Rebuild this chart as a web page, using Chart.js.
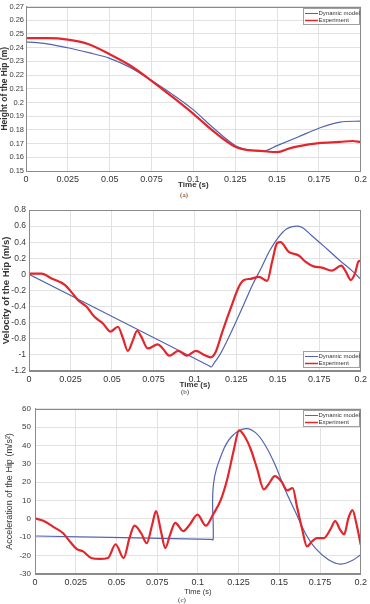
<!DOCTYPE html>
<html>
<head>
<meta charset="utf-8">
<script src="https://cdn.jsdelivr.net/npm/chart.js@4.4.1/dist/chart.umd.min.js"></script>
<style>
 body{margin:0;background:#fff;}
 #pagina{position:relative;width:370px;height:604px;overflow:hidden;background:#fff;}
 canvas{position:absolute;left:0;}
 .pie{position:absolute;width:40px;height:8px;line-height:8px;text-align:center;font-size:7px;font-family:"Liberation Serif","DejaVu Serif",serif;color:#333;}
</style>
</head>
<body>
<div id="pagina">
 <canvas id="graficoA" width="370" height="190" style="top:0px"></canvas>
 <canvas id="graficoB" width="370" height="190" style="top:200px"></canvas>
 <canvas id="graficoC" width="370" height="196" style="top:400px"></canvas>
 <div class="pie" style="left:164px;top:191px">(a)</div>
 <div class="pie" style="left:165px;top:388px">(b)</div>
 <div class="pie" style="left:162px;top:596px">(c)</div>
</div>
<script>
// etiquetas de los ejes
var etiquetasTiempo = ['0', '0.025', '0.05', '0.075', '0.1', '0.125', '0.15', '0.175', '0.2'];
var etiquetasAltura = ['0.15', '0.16', '0.17', '0.18', '0.19', '0.2', '0.21', '0.22', '0.23', '0.24', '0.25', '0.26', '0.27'];
var etiquetasVelocidad = ['-1.2', '-1', '-0.8', '-0.6', '-0.4', '-0.2', '0', '0.2', '0.4', '0.6', '0.8'];
var etiquetasAceleracion = ['-30', '-20', '-10', '0', '10', '20', '30', '40', '50', '60'];

// (a) altura de la cadera
var tAlturaModelo = [0, 0.0125, 0.025, 0.0375, 0.05, 0.0625, 0.075, 0.0875, 0.1, 0.1125, 0.125, 0.1325, 0.142, 0.15, 0.1625, 0.175, 0.1875, 0.2];
var alturaModelo = [0.2442, 0.2428, 0.2399, 0.2363, 0.2322, 0.2254, 0.2160, 0.2059, 0.1946, 0.1808, 0.1686, 0.1655, 0.1646, 0.1685, 0.1748, 0.1812, 0.1857, 0.1864];
var tAlturaExp = [0, 0.0125, 0.025, 0.0375, 0.05, 0.0625, 0.075, 0.0875, 0.1, 0.1125, 0.125, 0.1325, 0.14, 0.15, 0.1575, 0.1625, 0.175, 0.1875, 0.195, 0.2];
var alturaExp = [0.2469, 0.2469, 0.2459, 0.2425, 0.2352, 0.2268, 0.2158, 0.2040, 0.1917, 0.1785, 0.1677, 0.1652, 0.1647, 0.1637, 0.1665, 0.1680, 0.1704, 0.1712, 0.1719, 0.1712];

// (b) velocidad de la cadera
var tVelModelo = [0, 0.1085, 0.11, 0.1115, 0.115, 0.12, 0.125, 0.13, 0.135, 0.14, 0.145, 0.15, 0.155, 0.162, 0.165, 0.17, 0.175, 0.18, 0.1875, 0.195, 0.2];
var velModelo = [0.0, -1.134, -1.15, -1.105, -1.0, -0.8, -0.58, -0.35, -0.12, 0.08, 0.29, 0.45, 0.56, 0.60, 0.58, 0.49, 0.40, 0.31, 0.17, 0.04, -0.06];
var tVelExp = [0, 0.0076, 0.0136, 0.0216, 0.0256, 0.0296, 0.0346, 0.0396, 0.0446, 0.0492, 0.0536, 0.0566, 0.0596, 0.0626, 0.0652, 0.0676, 0.0716, 0.0776, 0.0806, 0.0846, 0.09, 0.095, 0.1006, 0.1056, 0.1096, 0.1126, 0.1166, 0.1216, 0.1266, 0.1296, 0.1336, 0.1386, 0.1436, 0.1466, 0.1496, 0.1516, 0.1566, 0.1626, 0.1666, 0.1716, 0.1766, 0.1826, 0.1882, 0.191, 0.194, 0.1966, 0.1986, 0.2];
var velExp = [0.01, 0.01, -0.05, -0.13, -0.22, -0.32, -0.40, -0.53, -0.61, -0.71, -0.65, -0.79, -0.95, -0.82, -0.70, -0.77, -0.92, -0.87, -0.92, -1.01, -0.95, -1.01, -0.95, -1.0, -1.03, -0.96, -0.71, -0.42, -0.15, -0.07, -0.055, -0.03, -0.08, 0.16, 0.39, 0.40, 0.28, 0.235, 0.16, 0.10, 0.085, 0.048, 0.11, 0.035, -0.07, 0.015, 0.16, 0.17];

// (c) aceleracion de la cadera
var tAccModelo = [0, 0.108, 0.1094, 0.1095, 0.115, 0.1212, 0.1293, 0.1354, 0.1415, 0.1476, 0.1537, 0.1599, 0.166, 0.1721, 0.1802, 0.1874, 0.1944, 0.2];
var accModelo = [-9.3, -11.15, -11.2, 18.3, 36.2, 45.3, 49.2, 47.0, 39.9, 29.1, 15.6, 3.8, -7.8, -15.9, -22.2, -24.6, -22.8, -19.5];
var tAccExp = [0, 0.0051, 0.0112, 0.0173, 0.0214, 0.0255, 0.0295, 0.0346, 0.0397, 0.0448, 0.0495, 0.0544, 0.058, 0.0611, 0.0652, 0.0686, 0.0719, 0.0743, 0.0774, 0.08, 0.0829, 0.0861, 0.091, 0.0947, 0.0998, 0.1049, 0.1093, 0.114, 0.1181, 0.1222, 0.1252, 0.1283, 0.1324, 0.1364, 0.1405, 0.1436, 0.1472, 0.1513, 0.1548, 0.1582, 0.1609, 0.164, 0.167, 0.17, 0.1731, 0.1772, 0.1812, 0.1843, 0.1874, 0.1898, 0.1924, 0.1949, 0.1975, 0.2];
var accExp = [0.3, -1.0, -4.3, -7.8, -12.3, -16.3, -17.7, -21.3, -21.8, -21.3, -13.8, -21.3, -10.5, -3.7, -7.8, -13.2, -3.3, 4.2, -7.0, -15.9, -8.7, -2.1, -6.6, -3.5, 2.3, -3.7, 2.4, 10.2, 21.9, 38.1, 48.3, 45.6, 38.1, 27.3, 16.1, 19.2, 23.3, 20.4, 15.6, 16.8, 6.5, -5.5, -15.0, -12.3, -10.5, -10.5, -6.0, -1.2, -6.0, -8.4, 0.3, 4.8, -3.3, -14.1];

var fuente = '"Liberation Sans", Arial, sans-serif';
var azul = '#5264b0';
var rojo = '#e3262b';

function puntos(xs, ys) {
	return xs.map(function (x, i) { return { x: x, y: ys[i] }; });
}

// marco del area y leyenda dentro del grafico
var marcoLeyenda = {
	id: 'marcoLeyenda',
	afterDraw: function (chart, args, opts) {
		var ctx = chart.ctx;
		var a = chart.chartArea;
		ctx.save();
		ctx.strokeStyle = '#8a8a8a';
		ctx.lineWidth = 1;
		ctx.strokeRect(Math.round(a.left) + 0.5, Math.round(a.top) + 0.5, Math.round(a.right - a.left) - 1, Math.round(a.bottom - a.top) - 1);

		var w = 57, h = 17;
		var x = Math.round(a.right) - w - 1;
		var y = opts.abajo ? Math.round(a.bottom) - h - 3 : Math.round(a.top) + 1;
		ctx.fillStyle = '#fff';
		ctx.fillRect(x, y, w, h);
		ctx.strokeStyle = '#a0a0a0';
		ctx.strokeRect(x + 0.5, y + 0.5, w - 1, h - 1);
		ctx.font = '6px ' + fuente;
		ctx.textBaseline = 'middle';
		chart.data.datasets.forEach(function (ds, i) {
			var ly = y + 5.5 + i * 7;
			ctx.strokeStyle = ds.borderColor;
			ctx.lineWidth = ds.borderWidth > 2 ? 1.5 : 1;
			ctx.beginPath();
			ctx.moveTo(x + 2, ly);
			ctx.lineTo(x + 15, ly);
			ctx.stroke();
			ctx.fillStyle = '#333';
			ctx.fillText(ds.label, x + 15.5, ly);
		});
		ctx.restore();
	}
};

function grafico(id, cfg) {
	var modelo = { label: 'Dynamic model', data: puntos(cfg.tm, cfg.ym), borderColor: azul, borderWidth: 1.2, order: 1 };
	// la curva con salto se dibuja con bezier normal
	if (cfg.bezierModelo) {
		modelo.cubicInterpolationMode = 'default';
		modelo.tension = 0.4;
	}
	return new Chart(document.getElementById(id).getContext('2d'), {
		type: 'line',
		data: {
			datasets: [
				modelo,
				{ label: 'Experiment', data: puntos(cfg.te, cfg.ye), borderColor: rojo, borderWidth: 2.2, order: 0 }
			]
		},
		options: {
			responsive: false,
			animation: false,
			layout: { padding: { left: 0, top: cfg.arriba, right: 8, bottom: 0 } },
			elements: {
				point: { radius: 0 },
				line: { cubicInterpolationMode: 'monotone', fill: false }
			},
			plugins: {
				legend: { display: false },
				tooltip: { enabled: false },
				marcoLeyenda: { abajo: cfg.abajo }
			},
			scales: {
				x: {
					type: 'linear', min: 0, max: 0.2,
					afterFit: function (s) { s.height = cfg.altoX; },
					ticks: {
						stepSize: 0.025, autoSkip: false, maxRotation: 0, padding: 3, color: '#333',
						font: { family: fuente, size: 9 },
						callback: function (v, i) { return etiquetasTiempo[i]; }
					},
					grid: { color: '#e2e2e2', drawTicks: false },
					border: { color: '#8a8a8a' },
					title: { display: true, text: 'Time (s)', color: '#333', padding: 0, font: { family: fuente, size: cfg.letraX, weight: cfg.peso } }
				},
				y: {
					min: cfg.ymin, max: cfg.ymax,
					afterFit: function (s) { s.width = cfg.anchoY; },
					ticks: {
						stepSize: cfg.paso, autoSkip: false, padding: cfg.padTicksY, color: '#3a3a3a',
						font: { family: fuente, size: cfg.letraTicksY },
						callback: function (v, i) { return cfg.etiquetas[i]; }
					},
					grid: { color: '#e2e2e2', drawTicks: false },
					border: { color: '#8a8a8a' },
					title: { display: true, text: cfg.tituloY, color: '#333', padding: { top: cfg.padY, bottom: 0 }, font: { family: fuente, size: cfg.letraY, weight: cfg.peso } }
				}
			}
		},
		plugins: [marcoLeyenda]
	});
}

grafico('graficoA', {
	tm: tAlturaModelo, ym: alturaModelo, te: tAlturaExp, ye: alturaExp,
	ymin: 0.15, ymax: 0.27, paso: 0.01, etiquetas: etiquetasAltura,
	tituloY: 'Height of the Hip (m)', arriba: 5, anchoY: 26, altoX: 19, padY: 0, peso: 'bold', abajo: false,
	letraY: 8.5, letraX: 8, letraTicksY: 7.5, padTicksY: 2
});
grafico('graficoB', {
	tm: tVelModelo, ym: velModelo, te: tVelExp, ye: velExp,
	ymin: -1.2, ymax: 0.8, paso: 0.2, etiquetas: etiquetasVelocidad,
	tituloY: 'Velocity of the Hip (m/s)', arriba: 10, anchoY: 29, altoX: 19, padY: 1, peso: 'bold', abajo: true,
	letraY: 9.5, letraX: 8, letraTicksY: 8.5, padTicksY: 3
});
grafico('graficoC', {
	tm: tAccModelo, ym: accModelo, te: tAccExp, ye: accExp,
	ymin: -30, ymax: 60, paso: 10, etiquetas: etiquetasAceleracion,
	tituloY: 'Acceleration of the Hip (m/s²)', arriba: 8, anchoY: 35, altoX: 22, padY: 4, peso: 'normal', abajo: false,
	letraY: 9, letraX: 7.5, letraTicksY: 8, padTicksY: 4, bezierModelo: true
});
</script>
</body>
</html>
